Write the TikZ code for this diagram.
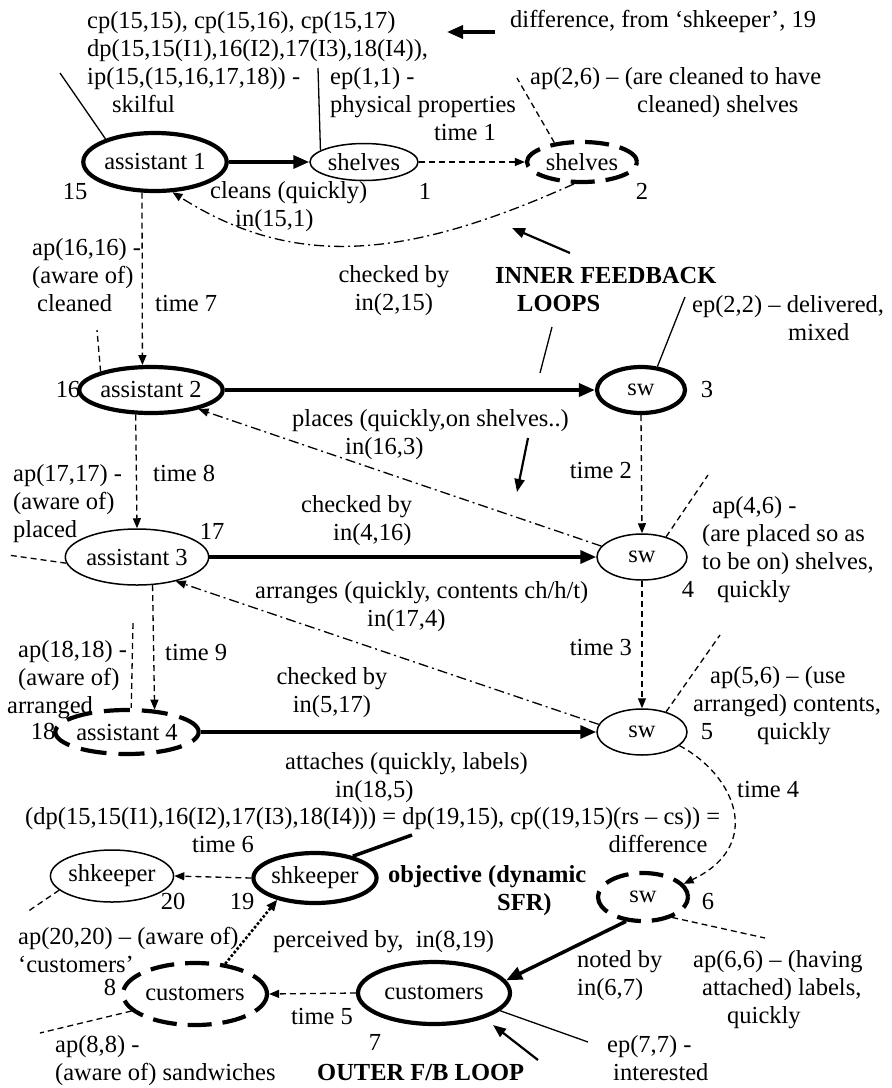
\documentclass[tikz,border=0pt]{standalone}
\usepackage{fontspec}
\setmainfont{Liberation Serif}
\usetikzlibrary{arrows.meta,shapes.geometric}
\newcommand\dfont{\fontsize{24.5}{28}\selectfont}
\begin{document}
\begin{tikzpicture}[x=1pt,y=-1pt,
  lbl/.style={inner sep=0pt, font=\dfont},
  ml/.style={lbl, align=left},
  thinell/.style={ellipse, draw, line width=1.5pt, inner sep=0pt, font=\dfont},
  thickell/.style={ellipse, draw, line width=4.2pt, inner sep=0pt, font=\dfont},
  dashell/.style={thickell, dash pattern=on 24pt off 11pt},
  flow/.style={line width=3.5pt, -{Triangle[length=16pt,width=13pt]}},
  timearrow/.style={line width=1.3pt, dash pattern=on 6pt off 4pt, -{Triangle[length=10pt,width=8pt]}},
  check/.style={line width=1.3pt, dash pattern=on 10pt off 4pt on 2pt off 4pt, -{Triangle[length=10pt,width=8pt]}},
  pointer/.style={line width=1.3pt},
  dpointer/.style={line width=1.3pt, dash pattern=on 6pt off 4pt},
  callout/.style={line width=2.2pt, -{Triangle[length=13pt,width=10pt]}}
]
\useasboundingbox (0,0) rectangle (892,1088);
\fill[white] (0,0) rectangle (892,1088);

% ---------- nodes ----------
\node[thickell, minimum width=120pt, minimum height=58pt] (a1) at (155,162) {assistant 1};
\node[thinell, minimum width=108pt, minimum height=37pt] (sh1) at (364,162) {shelves};
\node[dashell, minimum width=110pt, minimum height=40pt] (sh2) at (582,162) {shelves};
\node[thickell, minimum width=122pt, minimum height=46pt] (a2) at (151,390) {assistant 2};
\node[thickell, minimum width=88pt, minimum height=46pt] (sw3) at (641,390) {sw};
\node[thinell, minimum width=120pt, minimum height=56pt] (a3) at (137,557) {assistant 3};
\node[thinell, minimum width=90pt, minimum height=46pt] (sw4) at (642,557) {sw};
\node[dashell, minimum width=130pt, minimum height=44pt, dash pattern=on 26pt off 12pt] (a4) at (127,732) {assistant 4};
\node[thinell, minimum width=90pt, minimum height=46pt] (sw5) at (642,732) {sw};
\node[thickell, minimum width=106pt, minimum height=50pt] (sh19) at (315,878) {shkeeper};
\node[thinell, minimum width=106pt, minimum height=52pt] (sh20) at (112,876) {shkeeper};
\node[dashell, minimum width=90pt, minimum height=48pt] (sw6) at (643,897) {sw};
\node[dashell, minimum width=144pt, minimum height=62pt] (c8) at (195,994) {customers};
\node[thickell, minimum width=152pt, minimum height=62pt] (c7) at (434,993) {customers};

% ---------- labels (multi-line: anchor at baseline of last line) ----------
\node[ml, anchor=base west] (tb) at (87,112) {cp(15,15), cp(15,16), cp(15,17)\\dp(15,15(I1),16(I2),17(I3),18(I4)),\\ip(15,(15,16,17,18)) -\\\hspace*{25pt}skilful};
\node[lbl, anchor=base west] (diff) at (510,27) {difference, from ‘shkeeper’, 19};
\node[ml, anchor=base west] (ep1) at (330,112) {ep(1,1) -\\physical properties};
\node[lbl, anchor=base] (t1) at (465,140) {time 1};
\node[ml, anchor=base west] (ap26) at (530,112) {ap(2,6) – (are cleaned to have\\\hspace*{107pt}cleaned) shelves};
\node[lbl, anchor=base] (n15) at (75,199) {15};
\node[ml, anchor=base west] (cleans) at (210,226) {cleans (quickly)\\\hspace*{25pt}in(15,1)};
\node[lbl, anchor=base] (n1) at (425,199) {1};
\node[lbl, anchor=base] (n2) at (642,199) {2};
\node[lbl, align=center, anchor=base] (chk1) at (394,310) {checked by\\in(2,15)};
\node[ml, anchor=base west, font=\dfont\bfseries] (inner) at (495,311) {INNER FEEDBACK\\\hspace*{22pt}LOOPS};
\node[ml, anchor=base west] (ap1616) at (32,311) {ap(16,16) -\\(aware of)\\\hspace*{5pt}cleaned};
\node[lbl, anchor=base west] (t7) at (155,311) {time 7};
\node[ml, anchor=base west] (ep22) at (692,340) {ep(2,2) – delivered,\\\hspace*{96pt}mixed};
\node[lbl, anchor=base] (n16) at (68,397) {16};
\node[lbl, anchor=base] (n3) at (707,397) {3};
\node[ml, anchor=base west] (places) at (292,454) {places (quickly,on shelves..)\\\hspace*{53pt}in(16,3)};
\node[lbl, anchor=base east] (t2) at (632,478) {time 2};
\node[ml, anchor=base west] (ap1717) at (13,537) {ap(17,17) -\\(aware of)\\placed};
\node[lbl, anchor=base west] (t8) at (153,481) {time 8};
\node[ml, anchor=base west] (chk2) at (301,540) {checked by\\\hspace*{32pt}in(4,16)};
\node[lbl, anchor=base] (n17) at (212,539) {17};
\node[ml, anchor=base west] (ap46) at (702,597) {\hspace*{10pt}ap(4,6) -\\(are placed so as\\to be on) shelves,\\\hspace*{15pt}quickly};
\node[lbl, anchor=base] (n4) at (688,597) {4};
\node[ml, anchor=base west] (arr) at (255,626) {arranges (quickly, contents ch/h/t)\\\hspace*{112pt}in(17,4)};
\node[ml, anchor=base west] (ap1818) at (7,713) {\hspace*{11pt}ap(18,18) -\\\hspace*{11pt}(aware of)\\arranged};
\node[lbl, anchor=base west] (t9) at (165,660) {time 9};
\node[lbl, align=center, anchor=base] (chk3) at (332,712) {checked by\\in(5,17)};
\node[lbl, anchor=base east] (t3) at (632,655) {time 3};
\node[ml, anchor=base west] (ap56) at (693,739) {\hspace*{17pt}ap(5,6) – (use\\arranged) contents,\\\hspace*{64pt}quickly};
\node[lbl, anchor=base] (n18) at (43,739) {18};
\node[lbl, anchor=base] (n5) at (707,739) {5};
\node[ml, anchor=base west] (att) at (285,797) {attaches (quickly, labels)\\\hspace*{50pt}in(18,5)};
\node[lbl, anchor=base west] (t4) at (737,797) {time 4};
\node[lbl, anchor=base west] (long) at (25,824) {(dp(15,15(I1),16(I2),17(I3),18(I4))) = dp(19,15), cp((19,15)(rs – cs)) =};
\node[lbl, anchor=base] (t6) at (223,852) {time 6};
\node[lbl, anchor=base] (dif2) at (658,852) {difference};
\node[ml, anchor=base west, font=\dfont\bfseries] (obj) at (388,910) {objective (dynamic\\\hspace*{109pt}SFR)};
\node[lbl, anchor=base] (n20) at (173,909) {20};
\node[lbl, anchor=base] (n19) at (242,909) {19};
\node[lbl, anchor=base] (n6) at (708,909) {6};
\node[ml, anchor=base west] (ap2020) at (18,972) {ap(20,20) – (aware of)\\‘customers’};
\node[lbl, anchor=base west] (perc) at (273,947) {perceived by,\ \ in(8,19)};
\node[ml, anchor=base west] (noted) at (577,995) {noted by\\in(6,7)};
\node[ml, anchor=base west] (ap66) at (693,1023) {ap(6,6) – (having\\\hspace*{9pt}attached) labels,\\\hspace*{34pt}quickly};
\node[lbl, anchor=base] (n8) at (110,995) {8};
\node[lbl, anchor=base] (t5) at (322,1024) {time 5};
\node[lbl, anchor=base] (n7) at (375,1050) {7};
\node[ml, anchor=base west] (ap88) at (55,1080) {ap(8,8) -\\(aware of) sandwiches};
\node[lbl, anchor=base west, font=\dfont\bfseries] (outer) at (317,1080) {OUTER F/B LOOP};
\node[ml, anchor=base west] (ep77) at (607,1080) {ep(7,7) -\\\hspace*{6pt}interested};

% ---------- free ends ----------
\coordinate (pa1) at (60,73);
\coordinate (psh1) at (318,68);
\coordinate (psh2) at (517,78);
\coordinate (dtail) at (495,32);
\coordinate (dhead) at (447,32);
\coordinate (itail) at (570,253);
\coordinate (ihead) at (512,228);
\coordinate (lo1) at (552,327);
\coordinate (lo2) at (540,373);
\coordinate (pl1) at (528,438);
\coordinate (pl2) at (517,492);
\coordinate (pa2) at (97,330);
\coordinate (psw3) at (685,297);
\coordinate (pa3) at (8,555);
\coordinate (psw4) at (708,475);
\coordinate (psw5) at (720,635);
\coordinate (pa4) at (133,623);
\coordinate (psh19) at (412,835);
\coordinate (psh20) at (27,912);
\coordinate (psw6) at (765,938);
\coordinate (pc8) at (40,1033);
\coordinate (pc7) at (588,1042);
\coordinate (otail) at (538,1060);
\coordinate (ohead) at (493,1025);

% ---------- connectors ----------
\draw[flow] (a1) -- (sh1);
\draw[timearrow] (sh1) -- (sh2);
\draw[check] (sh2.250) .. controls (407,259) and (295,270) .. (a1.300);
\draw[flow] (a2) -- (sw3);
\draw[flow] (a3) -- (sw4);
\draw[flow] (a4) -- (sw5);
\draw[timearrow] (a1.247) -- (a2.109);
\draw[timearrow] (a2.238) -- (a3.north);
\draw[timearrow] (a3.299) -- (a4.39);
\draw[timearrow] (sw3.south) -- (sw4.north);
\draw[timearrow] (sw4.south) -- (sw5.north);
\draw[check] (sw4.165) -- (a2.338);
\draw[check] (sw5.170) -- (a3.328);
\draw[timearrow] (sw5.340) .. controls (735,775) and (765,845) .. (sw6.18);
\draw[flow] (sw6.235) -- (c7.10);
\draw[timearrow] (c7.west) -- (c8.east);
\draw[line width=2.6pt, dotted, -{Triangle[length=11pt,width=9pt]}] (c8.45) -- (sh19.210);
\draw[timearrow] (sh19.west) -- (sh20.east);

\draw[flow] (dtail) -- (dhead);
\draw[callout] (itail) -- (ihead);
\draw[pointer] (lo1) -- (lo2);
\draw[callout] (pl1) -- (pl2);
\draw[callout] (otail) -- (ohead);

\draw[pointer] (a1.155) -- (pa1);
\draw[pointer] (sh1.165) -- (psh1);
\draw[dpointer] (sh2.145) -- (psh2);
\draw[dpointer] (a2.160) -- (pa2);
\draw[pointer] (sw3.55) -- (psw3);
\draw[dpointer] (a3.185) -- (pa3);
\draw[dpointer] (sw4.40) -- (psw4);
\draw[dpointer] (sw5.40) -- (psw5);
\draw[dpointer] (pa4) -- (a4.80);
\draw[line width=3.5pt] (sh19.30) -- (psh19);
\draw[dpointer] (sh20.195) -- (psh20);
\draw[dpointer] (sw6.325) -- (psw6);
\draw[dpointer] (c8.195) -- (pc8);
\draw[pointer] (c7.345) -- (pc7);
\end{tikzpicture}
\end{document}
